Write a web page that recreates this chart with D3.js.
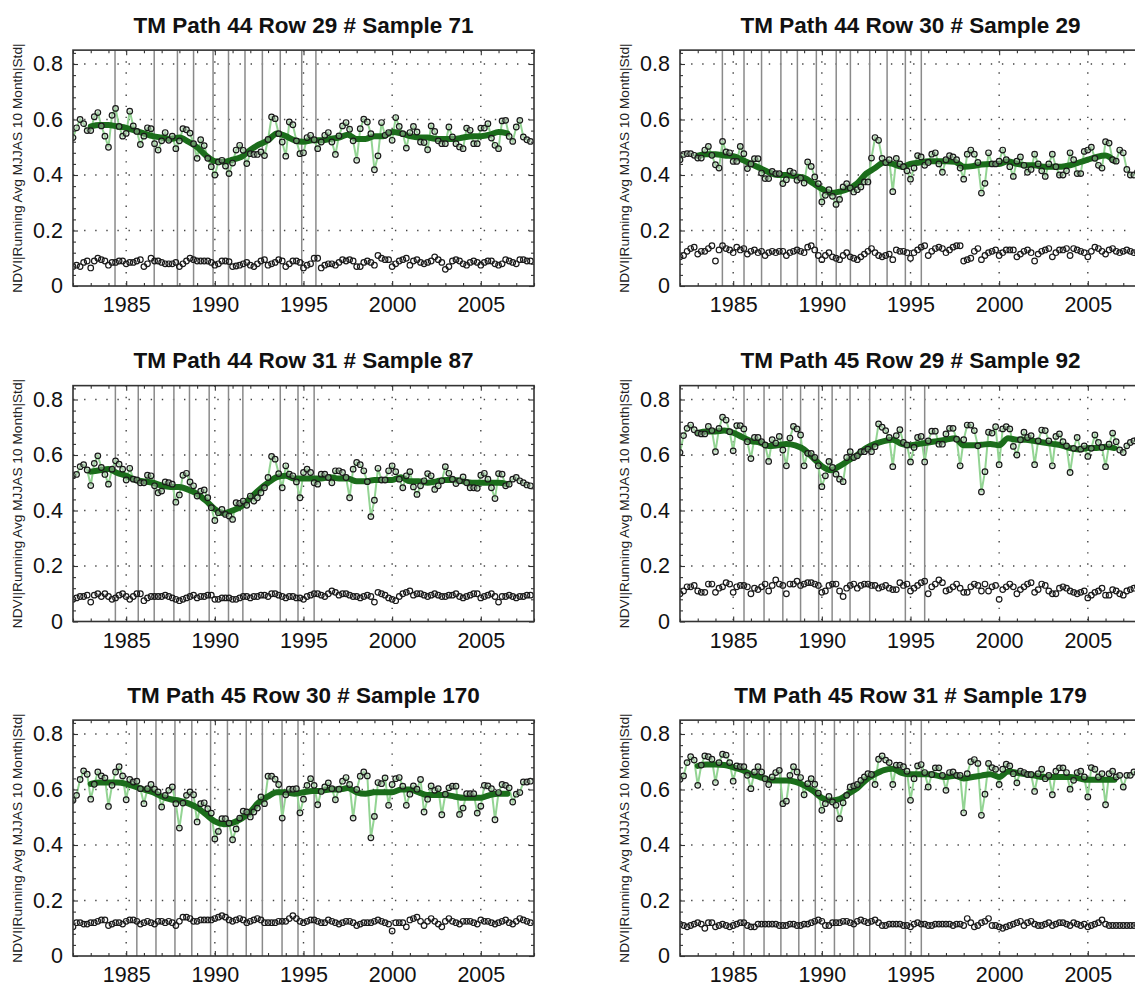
<!DOCTYPE html>
<html><head><meta charset="utf-8">
<script src="https://cdn.jsdelivr.net/npm/d3@7"></script>
<style>body{margin:0;background:#fff;}svg{display:block;}</style>
</head><body>
<svg id="chart" width="1135" height="986"></svg>
<script>
// ---------------- data ----------------
const titles = ["TM Path 44 Row 29 # Sample 71","TM Path 44 Row 30 # Sample 29",
  "TM Path 44 Row 31 # Sample 87","TM Path 45 Row 29 # Sample 92",
  "TM Path 45 Row 30 # Sample 170","TM Path 45 Row 31 # Sample 179"];
const yAxisTitle = "NDVI|Running Avg MJJAS 10 Month|Std|";
const xTickLabels = [1985,1990,1995,2000,2005];
const yTickLabels = [0,0.2,0.4,0.6,0.8];
const firstYear = 1982, samplesPerYear = 5;        // MJJAS: 5 samples per year
const raStart = 1983, raStep = 0.5;                 // running average knots

const ndvi_44_29 = [.535,.57,.60,.585,.56, .56,.61,.625,.577,.54, .50,.615,.64,.575,.54, .55,.63,.577,.557,.51,
 .54,.57,.567,.513,.49, .523,.553,.525,.54,.495, .523,.567,.563,.551,.513, .46,.527,.506,.46,.43,
 .40,.447,.453,.432,.405, .443,.49,.507,.489,.441, .477,.474,.474,.483,.47, .528,.609,.603,.549,.519,
 .468,.591,.581,.523,.477, .48,.535,.543,.527,.495, .519,.543,.553,.519,.474, .541,.577,.589,.565,.523,
 .453,.567,.601,.591,.549, .419,.469,.589,.543,.553, .525,.607,.575,.549,.497, .553,.575,.555,.519,.517,
 .491,.577,.557,.523,.513, .513,.573,.537,.513,.501, .495,.569,.561,.513,.513, .569,.569,.585,.533,.507,
 .495,.595,.597,.539,.521, .573,.597,.537,.527,.521];
const std_44_29 = [.07,.075,.07,.085,.09, .065,.09,.1,.095,.09, .075,.085,.085,.09,.09, .08,.085,.085,.09,.095,
 .07,.08,.1,.09,.09, .085,.08,.08,.08,.085, .07,.08,.09,.1,.095, .09,.09,.09,.09,.085,
 .075,.08,.09,.09,.088, .07,.072,.075,.08,.085, .075,.07,.08,.09,.095, .075,.08,.085,.095,.09,
 .07,.08,.09,.09,.085, .065,.075,.08,.1,.1, .065,.075,.08,.08,.075, .085,.095,.09,.095,.09,
 .07,.07,.085,.09,.085, .075,.11,.1,.095,.095, .07,.08,.09,.095,.1, .075,.09,.095,.085,.08,
 .085,.09,.105,.095,.085, .06,.07,.09,.095,.09, .08,.075,.085,.09,.085, .075,.085,.09,.09,.08,
 .075,.08,.095,.09,.085, .08,.095,.095,.09,.09];
const ra_44_29 = [.575,.58,.58,.575,.57,.56,.55,.54,.535,.53,.535,.52,.50,.47,.45,.448,.455,.465,.49,.51,
 .525,.55,.54,.525,.52,.525,.525,.53,.535,.545,.53,.53,.54,.54,.555,.55,.54,.535,.535,.53,
 .53,.53,.535,.54,.54,.545,.555,.55];
const events_44_29 = [1984.37,1986.58,1987.89,1988.80,1989.90,1990.77,1991.70,1992.68,1993.69,1994.90,1995.70];

const ndvi_44_30 = [.455,.474,.477,.477,.471, .461,.461,.49,.503,.471, .437,.425,.521,.483,.48, .449,.449,.503,.477,.423,
 .44,.459,.459,.407,.387, .387,.413,.405,.405,.369, .383,.414,.408,.381,.389, .371,.447,.431,.393,.369,
 .303,.327,.347,.323,.294, .312,.357,.369,.353,.339, .347,.357,.375,.375,.461, .535,.525,.46,.445,.455,
 .34,.46,.44,.43,.415, .385,.425,.47,.465,.435, .445,.475,.48,.44,.41, .455,.47,.465,.455,.425,
 .385,.475,.49,.475,.445, .335,.37,.48,.44,.44, .45,.49,.455,.43,.395, .45,.465,.435,.41,.42,
 .475,.44,.415,.395,.44, .475,.43,.40,.40,.415, .48,.455,.405,.405,.485, .49,.50,.46,.435,.425,
 .52,.515,.455,.45,.49, .48,.42,.40,.40,.41];
const std_44_30 = [.105,.11,.125,.135,.14, .115,.125,.125,.135,.145, .09,.13,.145,.135,.13, .12,.14,.13,.135,.115,
 .125,.13,.12,.125,.11, .12,.125,.12,.125,.125, .11,.12,.125,.13,.125, .12,.14,.145,.13,.11,
 .095,.11,.12,.105,.1, .095,.11,.12,.105,.1, .095,.105,.115,.125,.135, .12,.11,.105,.11,.115,
 .095,.13,.125,.125,.12, .1,.12,.13,.14,.145, .11,.125,.135,.14,.135, .12,.13,.14,.145,.145,
 .09,.095,.1,.125,.135, .095,.11,.12,.125,.13, .11,.12,.13,.13,.13, .105,.115,.125,.13,.12,
 .09,.115,.125,.13,.135, .105,.12,.13,.13,.135, .11,.135,.13,.125,.12, .105,.125,.14,.135,.125,
 .115,.13,.135,.125,.12, .125,.13,.125,.12,.12];
const ra_44_30 = [.47,.475,.475,.47,.468,.455,.44,.425,.41,.40,.40,.395,.39,.37,.35,.335,.34,.35,.37,.405,
 .425,.445,.44,.43,.44,.445,.45,.45,.45,.448,.43,.432,.438,.44,.44,.45,.44,.435,.435,.43,
 .43,.43,.435,.445,.455,.465,.47,.45];
const events_44_30 = [1984.39,1985.61,1986.60,1987.69,1988.62,1989.69,1990.81,1991.61,1992.70,1993.68,1994.71,1995.61];

const ndvi_44_31 = [.525,.53,.558,.565,.546, .49,.57,.597,.555,.53, .495,.549,.579,.567,.549, .51,.552,.513,.51,.50,
 .50,.527,.525,.489,.464, .47,.503,.50,.495,.43, .456,.527,.534,.503,.489, .452,.47,.474,.446,.41,
 .364,.392,.404,.386,.38, .368,.428,.426,.434,.419, .452,.434,.446,.464,.482, .519,.595,.585,.533,.482,
 .561,.531,.525,.503,.446, .537,.549,.537,.50,.495, .531,.531,.519,.50,.543, .543,.537,.519,.446,.549,
 .573,.565,.543,.504,.378, .437,.552,.51,.51,.543, .561,.54,.513,.482,.525, .54,.485,.458,.489,.507,
 .533,.525,.476,.489,.507, .558,.534,.513,.497,.507, .521,.50,.482,.482,.48, .527,.534,.513,.482,.443,
 .533,.531,.489,.495,.513, .519,.507,.50,.492,.489];
const std_44_31 = [.08,.085,.09,.09,.095, .07,.095,.1,.09,.1, .09,.08,.085,.095,.1, .09,.08,.09,.1,.1,
 .075,.085,.09,.09,.09, .09,.095,.09,.085,.08, .075,.08,.085,.09,.095, .085,.09,.09,.095,.095,
 .08,.08,.085,.085,.085, .08,.08,.085,.09,.09, .085,.09,.09,.095,.095, .09,.1,.1,.095,.09,
 .085,.09,.09,.085,.085, .08,.09,.095,.1,.1, .095,.09,.1,.11,.105, .095,.1,.1,.095,.09,
 .09,.085,.09,.095,.09, .07,.105,.1,.095,.085, .08,.075,.09,.1,.105, .11,.095,.1,.1,.095,
 .09,.095,.1,.095,.09, .09,.095,.095,.1,.09, .085,.09,.095,.1,.1, .085,.09,.095,.1,.09,
 .07,.09,.09,.095,.09, .085,.09,.09,.095,.095];
const ra_44_31 = [.54,.545,.55,.535,.525,.51,.505,.50,.49,.485,.485,.475,.46,.435,.405,.39,.40,.415,.445,.475,
 .50,.52,.525,.515,.515,.515,.515,.52,.515,.515,.505,.505,.51,.51,.51,.52,.505,.505,.50,.505,
 .51,.51,.505,.50,.50,.50,.50,.495];
const events_44_31 = [1984.39,1985.68,1986.58,1987.69,1988.57,1989.68,1990.77,1991.58,1993.69,1994.69,1995.60];

const ndvi_45_29 = [.609,.67,.696,.708,.691, .679,.676,.676,.703,.688, .612,.696,.736,.726,.684, .615,.706,.706,.694,.648,
 .587,.663,.663,.648,.636, .577,.655,.643,.667,.618, .561,.661,.703,.694,.672, .561,.606,.606,.591,.561,
 .486,.525,.577,.555,.531, .513,.504,.591,.612,.591, .597,.612,.612,.621,.612, .63,.712,.70,.688,.663,
 .558,.67,.691,.645,.636, .575,.627,.663,.667,.575, .651,.686,.686,.639,.639, .676,.696,.696,.657,.561,
 .655,.708,.708,.688,.633, .467,.54,.682,.679,.702, .565,.694,.702,.694,.631, .60,.655,.682,.663,.67,
 .565,.651,.69,.688,.651, .561,.667,.676,.648,.633, .537,.624,.663,.621,.633, .595,.624,.672,.645,.627,
 .558,.639,.679,.648,.618, .609,.633,.645,.651,.655];
const std_45_29 = [.1,.11,.125,.125,.13, .11,.105,.105,.135,.135, .105,.12,.125,.14,.135, .105,.125,.13,.13,.125,
 .1,.12,.115,.125,.135, .11,.13,.15,.135,.13, .1,.135,.135,.145,.13, .135,.14,.14,.135,.13,
 .105,.11,.13,.135,.135, .11,.09,.12,.13,.135, .12,.13,.135,.135,.13, .13,.12,.125,.13,.12,
 .115,.115,.14,.13,.135, .11,.12,.13,.14,.145, .1,.125,.135,.15,.14, .11,.115,.125,.135,.12,
 .105,.105,.125,.135,.13, .11,.135,.11,.125,.13, .08,.115,.125,.135,.125, .1,.115,.125,.135,.14,
 .105,.115,.135,.13,.11, .1,.1,.12,.125,.12, .11,.105,.1,.105,.11, .085,.095,.105,.11,.12,
 .095,.095,.115,.11,.1, .095,.11,.115,.12,.125];
const ra_45_29 = [.68,.685,.685,.688,.68,.665,.65,.645,.632,.635,.64,.635,.62,.59,.56,.545,.56,.58,.60,.625,
 .64,.65,.655,.64,.635,.64,.645,.65,.655,.66,.635,.635,.637,.64,.635,.66,.655,.655,.65,.645,
 .64,.635,.625,.62,.625,.625,.63,.625];
const events_45_29 = [1985.61,1986.74,1987.80,1988.80,1989.82,1990.58,1991.59,1992.70,1994.71,1995.80];

const ndvi_45_30 = [.561,.579,.636,.667,.655, .565,.619,.663,.649,.642, .539,.615,.663,.682,.649, .563,.636,.627,.63,.603,
 .549,.603,.618,.601,.591, .537,.579,.597,.609,.549, .461,.551,.579,.591,.581, .483,.549,.552,.531,.515,
 .422,.449,.495,.495,.479, .419,.458,.497,.522,.519, .501,.519,.533,.573,.549, .648,.648,.637,.618,.497,
 .581,.601,.601,.603,.516, .565,.615,.639,.615,.545, .593,.609,.624,.603,.563, .601,.63,.643,.618,.497,
 .60,.648,.663,.649,.426, .503,.625,.621,.642,.543, .618,.639,.643,.612,.543, .583,.613,.601,.636,.519,
 .565,.613,.597,.603,.509, .583,.606,.612,.612,.51, .533,.585,.585,.585,.515, .54,.615,.613,.603,.491,
 .589,.618,.615,.606,.555, .583,.589,.627,.627,.63];
const std_45_30 = [.105,.12,.12,.115,.115, .12,.12,.125,.13,.13, .11,.115,.12,.12,.115, .125,.13,.13,.125,.115,
 .12,.125,.12,.115,.125, .125,.12,.125,.12,.11, .125,.14,.14,.135,.125, .125,.13,.13,.13,.13,
 .135,.14,.145,.14,.13, .125,.13,.135,.13,.12, .125,.13,.135,.13,.12, .12,.12,.12,.125,.125,
 .125,.135,.145,.135,.125, .12,.125,.13,.13,.125, .12,.12,.13,.125,.12, .115,.12,.125,.125,.12,
 .11,.115,.12,.12,.12, .125,.13,.125,.12,.115, .09,.12,.12,.12,.105, .13,.135,.14,.125,.11,
 .125,.135,.125,.115,.105, .125,.135,.125,.12,.115, .125,.125,.125,.12,.115, .13,.125,.125,.12,.115,
 .12,.125,.13,.12,.115, .125,.135,.13,.125,.12];
const ra_45_30 = [.62,.625,.625,.625,.62,.61,.60,.59,.575,.565,.56,.55,.535,.51,.485,.475,.48,.495,.52,.555,
 .575,.59,.59,.585,.59,.595,.595,.60,.60,.605,.59,.585,.59,.59,.59,.60,.60,.59,.58,.58,
 .58,.575,.57,.57,.57,.58,.585,.585];
const events_45_30 = [1985.60,1986.68,1987.75,1988.70,1989.76,1990.71,1991.77,1992.68,1993.79,1994.69,1995.60];

const ndvi_45_31 = [.637,.649,.697,.718,.706, .615,.688,.721,.718,.709, .625,.697,.727,.724,.697, .63,.685,.682,.682,.651,
 .603,.663,.682,.663,.639, .618,.645,.661,.669,.549, .558,.651,.682,.663,.643, .581,.621,.639,.619,.587,
 .525,.549,.575,.555,.543, .495,.552,.579,.609,.613, .618,.633,.645,.657,.654, .618,.709,.721,.706,.697,
 .618,.688,.688,.682,.666, .561,.639,.685,.69,.661, .609,.654,.678,.678,.651, .597,.661,.663,.651,.651,
 .516,.657,.70,.708,.694, .507,.583,.694,.679,.673, .618,.673,.691,.685,.657, .624,.666,.661,.654,.654,
 .593,.657,.673,.639,.651, .581,.666,.678,.678,.661, .601,.633,.661,.666,.645, .573,.679,.673,.645,.657,
 .545,.657,.666,.645,.651, .609,.651,.651,.663,.66];
const std_45_31 = [.115,.11,.105,.11,.115, .12,.115,.1,.12,.12, .105,.11,.115,.11,.105, .11,.115,.12,.12,.11,
 .105,.105,.115,.115,.115, .115,.115,.115,.11,.11, .11,.115,.115,.11,.11, .115,.115,.12,.125,.13,
 .125,.11,.11,.12,.12, .12,.125,.125,.12,.115, .125,.13,.125,.12,.125, .13,.12,.11,.11,.115,
 .115,.115,.115,.11,.11, .105,.115,.12,.115,.115, .11,.11,.115,.115,.115, .115,.115,.11,.115,.115,
 .11,.135,.12,.105,.11, .12,.125,.135,.11,.11, .105,.1,.105,.11,.115, .12,.125,.11,.12,.125,
 .115,.11,.11,.115,.12, .11,.115,.12,.12,.115, .11,.12,.115,.11,.115, .105,.11,.115,.12,.13,
 .115,.11,.11,.11,.11, .11,.11,.11,.11,.11];
const ra_45_31 = [.685,.69,.69,.688,.68,.67,.655,.645,.635,.632,.632,.628,.615,.595,.57,.56,.565,.585,.605,.635,
 .655,.67,.675,.66,.655,.655,.655,.65,.645,.65,.64,.645,.65,.655,.645,.665,.66,.655,.65,.645,
 .645,.645,.645,.64,.635,.635,.635,.635];
const events_45_31 = [1985.61,1986.74,1987.69,1988.70,1989.63,1990.71,1991.80,1992.70,1994.71,1995.61];

// table built from the arrays
const panels = [
  {title: titles[0], ndvi: ndvi_44_29, std: std_44_29, ra: ra_44_29, events: events_44_29},
  {title: titles[1], ndvi: ndvi_44_30, std: std_44_30, ra: ra_44_30, events: events_44_30},
  {title: titles[2], ndvi: ndvi_44_31, std: std_44_31, ra: ra_44_31, events: events_44_31},
  {title: titles[3], ndvi: ndvi_45_29, std: std_45_29, ra: ra_45_29, events: events_45_29},
  {title: titles[4], ndvi: ndvi_45_30, std: std_45_30, ra: ra_45_30, events: events_45_30},
  {title: titles[5], ndvi: ndvi_45_31, std: std_45_31, ra: ra_45_31, events: events_45_31}
];

// ---------------- drawing ----------------
const FONT = "'Liberation Sans', Arial, Helvetica, sans-serif";
const W = 461, H = 0.85 * 277.5;
const colLeft = [73, 680], rowZero = [286, 621.5, 956];
const svg = d3.select("#chart");
svg.append("rect").attr("width",1135).attr("height",986).attr("fill","#fff");

const yearTicks = d3.range(firstYear, 2009);
const valTicks = d3.range(0, 22).map(i => +(i * 0.04).toFixed(2));
const fmtY = d => d === 0 ? "0" : d3.format(".1f")(d);
const isMajorY = d => yTickLabels.some(v => Math.abs(v - d) < 1e-6);

panels.forEach((p, k) => {
  const col = k % 2, row = Math.floor(k / 2);
  const left = colLeft[col], top = rowZero[row] - H;
  const g = svg.append("g").attr("transform", `translate(${left},${top})`);
  const x = d3.scaleLinear().domain([1982, 2008]).range([0, W]);
  const y = d3.scaleLinear().domain([0, 0.85]).range([H, 0]);

  const clipId = "clip" + k;
  g.append("clipPath").attr("id", clipId).append("rect").attr("width", W).attr("height", H);
  const plot = g.append("g").attr("clip-path", `url(#${clipId})`);

  // dotted grid
  plot.append("g").selectAll("line").data(xTickLabels).join("line")
    .attr("x1", d => x(d)).attr("x2", d => x(d)).attr("y1", 0).attr("y2", H)
    .attr("stroke", "#444").attr("stroke-width", 1.4).attr("stroke-dasharray", "1.4,9.7");
  plot.append("g").selectAll("line").data(yTickLabels.filter(v => v > 0)).join("line")
    .attr("x1", 0).attr("x2", W).attr("y1", d => y(d)).attr("y2", d => y(d))
    .attr("stroke", "#444").attr("stroke-width", 1.4).attr("stroke-dasharray", "1.4,9.7");

  // event lines
  plot.append("g").selectAll("line").data(p.events).join("line")
    .attr("x1", d => x(d)).attr("x2", d => x(d)).attr("y1", 0).attr("y2", H)
    .attr("stroke", "#8a8a8a").attr("stroke-width", 1.5);

  const tOf = i => firstYear + i / samplesPerYear;

  // thin ndvi line
  plot.append("path").datum(p.ndvi)
    .attr("d", d3.line().x((d, i) => x(tOf(i))).y(d => y(d)))
    .attr("fill", "none").attr("stroke", "#93d493").attr("stroke-width", 2);

  // running average
  plot.append("path").datum(p.ra)
    .attr("d", d3.line().x((d, i) => x(raStart + i * raStep)).y(d => y(d)).curve(d3.curveMonotoneX))
    .attr("fill", "none").attr("stroke", "#1b6d1b").attr("stroke-width", 6)
    .attr("stroke-linecap", "round").attr("stroke-linejoin", "round");

  // points
  plot.append("g").selectAll("circle").data(p.ndvi).join("circle")
    .attr("cx", (d, i) => x(tOf(i))).attr("cy", d => y(d)).attr("r", 2.8)
    .attr("fill", "rgba(190,210,190,0.45)").attr("stroke", "#1a1a1a").attr("stroke-width", 1.2);
  plot.append("g").selectAll("circle").data(p.std).join("circle")
    .attr("cx", (d, i) => x(tOf(i))).attr("cy", d => y(d)).attr("r", 2.8)
    .attr("fill", "none").attr("stroke", "#1a1a1a").attr("stroke-width", 1.2);

  // axes
  const styleAxis = (sel) => {
    sel.select(".domain").remove();
    sel.selectAll(".tick line").attr("stroke", "#333").attr("stroke-width", 1.1);
    sel.attr("font-family", FONT).attr("font-size", 21.5);
    sel.selectAll(".tick text").attr("fill", "#111");
  };
  const bx = g.append("g").attr("transform", `translate(0,${H})`)
    .call(d3.axisBottom(x).tickValues(yearTicks).tickSizeInner(-3).tickSizeOuter(0).tickPadding(11)
      .tickFormat(d => xTickLabels.includes(d) ? String(d) : ""));
  styleAxis(bx);
  bx.selectAll(".tick line").attr("y2", d => xTickLabels.includes(d) ? -5 : -3);

  const tx = g.append("g")
    .call(d3.axisTop(x).tickValues(yearTicks).tickSizeInner(-3).tickSizeOuter(0).tickFormat(""));
  styleAxis(tx);
  tx.selectAll(".tick line").attr("y2", d => xTickLabels.includes(d) ? 5 : 3);

  const ly = g.append("g")
    .call(d3.axisLeft(y).tickValues(valTicks).tickSizeInner(-3).tickSizeOuter(0).tickPadding(10)
      .tickFormat(d => isMajorY(d) ? fmtY(d) : ""));
  styleAxis(ly);
  ly.selectAll(".tick line").attr("x2", d => isMajorY(d) ? 5 : 3);

  const ry = g.append("g").attr("transform", `translate(${W},0)`)
    .call(d3.axisRight(y).tickValues(valTicks).tickSizeInner(-3).tickSizeOuter(0).tickFormat(""));
  styleAxis(ry);
  ry.selectAll(".tick line").attr("x2", d => isMajorY(d) ? -5 : -3);

  // frame
  g.append("rect").attr("width", W).attr("height", H)
    .attr("fill", "none").attr("stroke", "#333").attr("stroke-width", 1.6);

  // title
  g.append("text").attr("x", W / 2).attr("y", H - 253.5)
    .attr("text-anchor", "middle").attr("font-family", FONT).attr("font-weight", "bold")
    .attr("font-size", 22.5).attr("fill", "#111").text(p.title);

  // y axis title
  g.append("text").attr("transform", `translate(-51,${H / 2}) rotate(-90)`)
    .attr("text-anchor", "middle").attr("font-family", FONT).attr("font-size", 13.7)
    .attr("fill", "#222").text(yAxisTitle);
});
</script>
</body></html>
